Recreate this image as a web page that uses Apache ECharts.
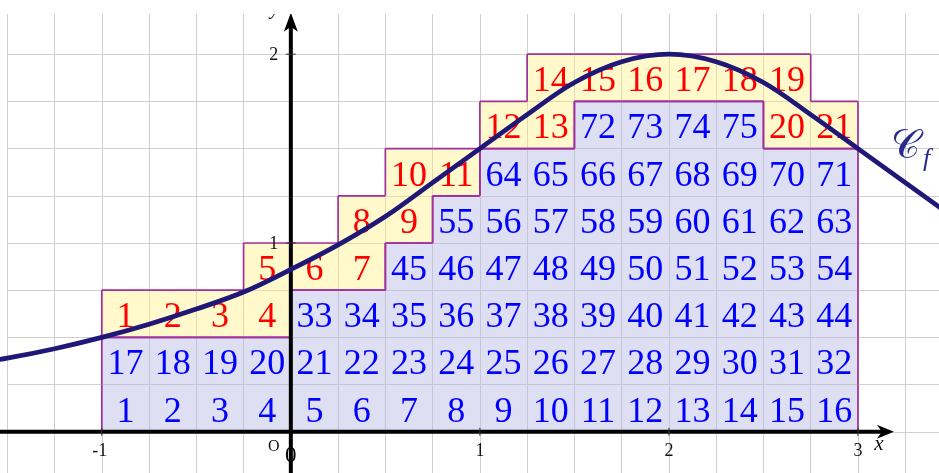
<!DOCTYPE html>
<html>
<head>
<meta charset="utf-8">
<script src="https://cdn.jsdelivr.net/npm/echarts@6/dist/echarts.min.js"></script>
<style>html,body{margin:0;padding:0;background:#fff}#main{width:939px;height:473px}</style>
</head>
<body>
<div id="main"></div>
<script>
// pas du quadrillage
var step = 0.25;

// points de la courbe Cf
var curveX = [-1.75, -1.5, -1.25, -1, -0.75, -0.5, -0.25, 0, 0.25, 0.5, 0.75, 1, 1.25, 1.5, 1.75, 2, 2.25, 2.5, 2.75, 3, 3.25, 3.5];
var curveY = [0.35, 0.39, 0.44, 0.5, 0.57, 0.65, 0.74, 0.86, 0.99, 1.14, 1.32, 1.5, 1.68, 1.85, 1.96, 2, 1.96, 1.85, 1.68, 1.5, 1.32, 1.14];

// carrés bleus, rangée par rangée : bas de la rangée, début, fin
var blueRowY = [0, 0.25, 0.5, 0.75, 1, 1.25, 1.5];
var blueRowFrom = [-1, -1, 0, 0.5, 0.75, 1, 1.5];
var blueRowTo = [3, 3, 3, 3, 3, 3, 2.5];

// carrés jaunes (coin bas gauche), dans l'ordre 1..21
var yellowX = [-1, -0.75, -0.5, -0.25, -0.25, 0, 0.25, 0.25, 0.5, 0.5, 0.75, 1, 1.25, 1.25, 1.5, 1.75, 2, 2.25, 2.5, 2.5, 2.75];
var yellowY = [0.5, 0.5, 0.5, 0.5, 0.75, 0.75, 0.75, 1, 1, 1.25, 1.25, 1.5, 1.5, 1.75, 1.75, 1.75, 1.75, 1.75, 1.75, 1.5, 1.5];

// graduations
var xTicks = [-1, 1, 2, 3];
var xTickLabels = ['-1', '1', '2', '3'];
var yTicks = [1, 2];
var yTickLabels = ['1', '2'];

var myChart = echarts.init(document.getElementById('main'));

// cases : [x, y, type (0 bleu / 1 jaune), numéro]
var cells = [];
var n = 1;
for (var r = 0; r < blueRowY.length; r++) {
	for (var x = blueRowFrom[r]; x < blueRowTo[r] - 1e-9; x += step) {
		cells.push([x, blueRowY[r], 0, n++]);
	}
}
for (var i = 0; i < yellowX.length; i++) {
	cells.push([yellowX[i], yellowY[i], 1, i + 1]);
}

// bords entre zones différentes
var kindMap = {};
cells.forEach(function(c) {
	kindMap[Math.round(c[0] / step) + ',' + Math.round(c[1] / step)] = c[2];
});
var edges = [];
cells.forEach(function(c) {
	var ci = Math.round(c[0] / step), cj = Math.round(c[1] / step);
	var nb = [
		[ci - 1, cj, c[0], c[1], c[0], c[1] + step],
		[ci + 1, cj, c[0] + step, c[1], c[0] + step, c[1] + step],
		[ci, cj - 1, c[0], c[1], c[0] + step, c[1]],
		[ci, cj + 1, c[0], c[1] + step, c[0] + step, c[1] + step]
	];
	nb.forEach(function(e) {
		var k = kindMap[e[0] + ',' + e[1]];
		if (k === undefined || k !== c[2]) edges.push([e[2], e[3], e[4], e[5]]);
	});
});

var curveData = curveX.map(function(v, i) { return [v, curveY[i]]; });

function renderCell(params, api) {
	var x = api.value(0), y = api.value(1);
	var p0 = api.coord([x, y + step]);
	var p1 = api.coord([x + step, y]);
	var yellow = api.value(2) === 1;
	return {
		type: 'group',
		children: [{
			type: 'rect',
			shape: { x: p0[0], y: p0[1], width: p1[0] - p0[0], height: p1[1] - p0[1] },
			style: { fill: yellow ? 'rgba(255,241,134,0.42)' : 'rgba(184,184,231,0.45)' }
		}, {
			type: 'text',
			x: (p0[0] + p1[0]) / 2,
			y: (p0[1] + p1[1]) / 2 + 4,
			style: {
				text: String(api.value(3)),
				fill: yellow ? '#ff0000' : '#0000ff',
				font: '36px "Liberation Serif"',
				align: 'center',
				verticalAlign: 'middle'
			}
		}]
	};
}

function renderEdge(params, api) {
	var a = api.coord([api.value(0), api.value(1)]);
	var b = api.coord([api.value(2), api.value(3)]);
	return {
		type: 'line',
		shape: { x1: a[0], y1: a[1], x2: b[0], y2: b[1] },
		style: { stroke: '#a0309c', lineWidth: 1.7 }
	};
}

function renderAxes(params, api) {
	var o = api.coord([0, 0]);
	var xl = api.coord([-1.6, 0]);
	var xt = api.coord([3.19, 0]);
	var yb = api.coord([0, -0.3]);
	var yt = api.coord([0, 2.22]);
	var ch = [];
	var serif = '"Liberation Serif"';
	ch.push({ type: 'line', shape: { x1: xl[0], y1: o[1], x2: xt[0] - 10, y2: o[1] }, style: { stroke: '#000', lineWidth: 4 } });
	ch.push({ type: 'polygon', shape: { points: [[xt[0], o[1]], [xt[0] - 17, o[1] - 7], [xt[0] - 12, o[1]], [xt[0] - 17, o[1] + 7]] }, style: { fill: '#000' } });
	ch.push({ type: 'line', shape: { x1: o[0], y1: yb[1], x2: o[0], y2: yt[1] + 10 }, style: { stroke: '#000', lineWidth: 4 } });
	ch.push({ type: 'polygon', shape: { points: [[o[0], yt[1]], [o[0] - 7, yt[1] + 19], [o[0], yt[1] + 14], [o[0] + 7, yt[1] + 19]] }, style: { fill: '#000' } });
	xTicks.forEach(function(v, i) {
		var p = api.coord([v, 0]);
		ch.push({ type: 'line', shape: { x1: p[0], y1: p[1] - 4, x2: p[0], y2: p[1] + 4 }, style: { stroke: '#333', lineWidth: 1 } });
		ch.push({ type: 'text', x: p[0] - (v < 0 ? 2 : 0), y: p[1] + 19, style: { text: xTickLabels[i], font: '18px ' + serif, fill: '#111', align: 'center', verticalAlign: 'middle' } });
	});
	yTicks.forEach(function(v, i) {
		var p = api.coord([0, v]);
		ch.push({ type: 'line', shape: { x1: p[0] - 5, y1: p[1], x2: p[0] + 5, y2: p[1] }, style: { stroke: '#333', lineWidth: 1 } });
		ch.push({ type: 'text', x: p[0] - 17, y: p[1] + 1, style: { text: yTickLabels[i], font: '18px ' + serif, fill: '#111', align: 'center', verticalAlign: 'middle' } });
	});
	ch.push({ type: 'text', x: o[0] - 17, y: o[1] + 15, style: { text: 'O', font: '16px ' + serif, fill: '#111', align: 'center', verticalAlign: 'middle' } });
	ch.push({ type: 'text', x: o[0], y: o[1] + 24, style: { text: '0', font: '23px ' + serif, fill: '#000', align: 'center', verticalAlign: 'middle' } });
	ch.push({ type: 'text', x: xt[0] - 15, y: o[1] + 13, style: { text: 'x', font: 'italic 21px ' + serif, fill: '#111', align: 'center', verticalAlign: 'middle' } });
	ch.push({ type: 'text', x: o[0] - 16, y: yt[1] - 4, style: { text: 'y', font: 'italic 21px ' + serif, fill: '#111', align: 'center', verticalAlign: 'middle' } });
	return { type: 'group', children: ch };
}

var option = {
	animation: false,
	backgroundColor: '#fff',
	grid: { left: -40, right: -13.5, top: 7, bottom: -6, containLabel: false, outerBoundsMode: 'none' },
	xAxis: {
		type: 'value', min: -1.75, max: 3.5, interval: step, z: 0,
		axisLine: { show: false }, axisTick: { show: false }, axisLabel: { show: false },
		splitLine: { show: true, lineStyle: { color: '#cfcfcf', width: 1 } }
	},
	yAxis: {
		type: 'value', min: -0.25, max: 2.25, interval: step, z: 0,
		axisLine: { show: false }, axisTick: { show: false }, axisLabel: { show: false },
		splitLine: { show: true, lineStyle: { color: '#cfcfcf', width: 1 } }
	},
	graphic: [
		{ type: 'rect', left: 0, top: 0, z: 1, shape: { width: 7, height: 473 }, style: { fill: '#fff' } },
		{ type: 'rect', left: 0, top: 0, z: 100, shape: { width: 939, height: 14 }, style: { fill: '#fff' } },
		{
			type: 'text', left: 891, top: 128, z: 50,
			style: {
				text: '{c|𝒞}{f|f}',
				rich: {
					c: { font: '40px "DejaVu Serif"', fill: '#2a2a8c' },
					f: { font: 'italic 26px "Liberation Serif"', fill: '#2a2a8c', padding: [22, 0, 0, 3] }
				}
			}
		}
	],
	series: [{
		type: 'custom', name: 'cases', z: 2, silent: true,
		renderItem: renderCell, data: cells
	}, {
		type: 'custom', name: 'bords', z: 3, silent: true,
		renderItem: renderEdge, data: edges
	}, {
		type: 'custom', name: 'axes', z: 4, silent: true,
		renderItem: renderAxes, data: [[0, 0]]
	}, {
		type: 'line', name: 'Cf', z: 6, silent: true,
		data: curveData, smooth: 0.35, showSymbol: false,
		lineStyle: { color: '#1f1877', width: 4.8 }
	}]
};
myChart.setOption(option);
window.addEventListener('resize', function() {
	myChart.resize();
});
</script>
</body>
</html>
